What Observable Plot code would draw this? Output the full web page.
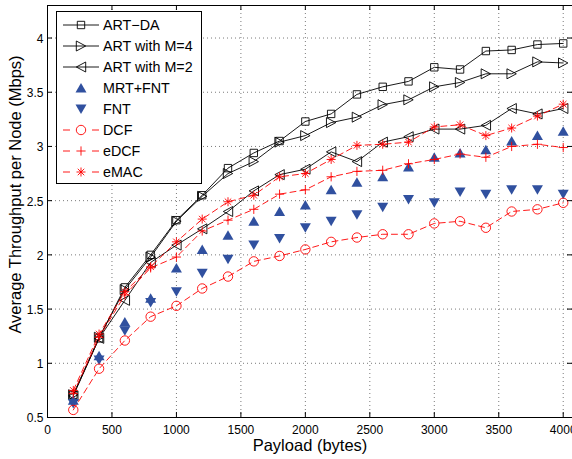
<!DOCTYPE html>
<html>
<head>
<meta charset="utf-8">
<script src="https://cdn.jsdelivr.net/npm/d3@7"></script>
<script src="https://cdn.jsdelivr.net/npm/@observablehq/plot@0.6"></script>
<style>
  html, body { margin: 0; padding: 0; background: #fff; }
  #wrap { position: relative; width: 572px; height: 459px; font-family: "Liberation Sans", Arial, sans-serif; }
  #legend { position: absolute; left: 0; top: 0; pointer-events: none; }
</style>
</head>
<body>
<div id="wrap"></div>
<script>
// ---------- data ----------
const payload = [200, 400, 600, 800, 1000, 1200, 1400, 1600, 1800, 2000, 2200, 2400, 2600, 2800, 3000, 3200, 3400, 3600, 3800, 4000];
const artDA  = [0.71, 1.23, 1.70, 2.00, 2.32, 2.55, 2.80, 2.94, 3.05, 3.23, 3.30, 3.48, 3.55, 3.60, 3.73, 3.71, 3.88, 3.89, 3.94, 3.95];
const artM4  = [0.71, 1.24, 1.68, 1.98, 2.31, 2.54, 2.75, 2.86, 3.04, 3.10, 3.22, 3.27, 3.385, 3.43, 3.55, 3.59, 3.67, 3.67, 3.78, 3.77];
const artM2  = [0.70, 1.23, 1.58, 1.93, 2.09, 2.24, 2.40, 2.59, 2.74, 2.79, 2.95, 2.86, 3.04, 3.09, 3.16, 3.16, 3.195, 3.35, 3.30, 3.35];
const mrtFnt = [0.66, 1.07, 1.38, 1.60, 1.88, 2.05, 2.18, 2.31, 2.40, 2.46, 2.60, 2.67, 2.72, 2.81, 2.90, 2.94, 2.97, 3.05, 3.10, 3.14];
const fnt    = [0.63, 1.03, 1.30, 1.56, 1.66, 1.83, 1.96, 2.09, 2.15, 2.25, 2.31, 2.37, 2.44, 2.51, 2.48, 2.58, 2.56, 2.60, 2.60, 2.56];
const dcf    = [0.57, 0.95, 1.21, 1.43, 1.53, 1.69, 1.80, 1.94, 1.99, 2.05, 2.12, 2.16, 2.19, 2.19, 2.29, 2.31, 2.25, 2.40, 2.42, 2.48];
const edcf   = [0.72, 1.24, 1.63, 1.88, 1.98, 2.22, 2.32, 2.42, 2.56, 2.60, 2.72, 2.77, 2.78, 2.84, 2.88, 2.93, 2.90, 3.00, 3.02, 2.99];
const emac   = [0.75, 1.27, 1.66, 1.89, 2.12, 2.33, 2.49, 2.55, 2.72, 2.75, 2.88, 3.01, 3.02, 3.04, 3.18, 3.20, 3.10, 3.17, 3.28, 3.39];

const seriesNames = ["ART\u2212DA", "ART with M=4", "ART with M=2", "MRT+FNT", "FNT", "DCF", "eDCF", "eMAC"];
const xTicks = [0, 500, 1000, 1500, 2000, 2500, 3000, 3500, 4000];
const xTickLabels = ["0", "500", "1000", "1500", "2000", "2500", "3000", "3500", "4000"];
const yTicks = [0.5, 1, 1.5, 2, 2.5, 3, 3.5, 4];
const yTickLabels = ["0.5", "1", "1.5", "2", "2.5", "3", "3.5", "4"];
const xLabel = "Payload (bytes)";
const yLabel = "Average Throughput per Node (Mbps)";

// ---------- symbols ----------
function mk(fn) { return { draw(ctx, size) { const r = Math.sqrt(size / Math.PI); fn(ctx, r); } }; }
const symSquare = mk((c, r) => { c.moveTo(-r, -r); c.lineTo(r, -r); c.lineTo(r, r); c.lineTo(-r, r); c.closePath(); });
const symRight = mk((c, r) => { const w = r * 0.94; c.moveTo(w, 0); c.lineTo(-w, -r); c.lineTo(-w, r); c.closePath(); });
const symLeft = mk((c, r) => { const w = r * 0.94; c.moveTo(-w, 0); c.lineTo(w, -r); c.lineTo(w, r); c.closePath(); });
const symUp = mk((c, r) => { const w = r * 1.1; c.moveTo(0, -r); c.lineTo(w, 0.9 * r); c.lineTo(-w, 0.9 * r); c.closePath(); });
const symDown = mk((c, r) => { const w = r * 1.1; c.moveTo(0, r); c.lineTo(w, -0.9 * r); c.lineTo(-w, -0.9 * r); c.closePath(); });
const symCircle = mk((c, r) => { c.moveTo(r, 0); c.arc(0, 0, r, 0, 2 * Math.PI); });
const symPlus = mk((c, r) => { c.moveTo(-r, 0); c.lineTo(r, 0); c.moveTo(0, -r); c.lineTo(0, r); });
const symAster = mk((c, r) => {
  c.moveTo(-r, 0); c.lineTo(r, 0); c.moveTo(0, -r); c.lineTo(0, r);
  const d = r * 0.72; c.moveTo(-d, -d); c.lineTo(d, d); c.moveTo(-d, d); c.lineTo(d, -d);
});

const RED = "#ff0000", BLUE = "#30509f", BLACK = "#000";
const styles = [
  { sym: symSquare, r: 3.7, stroke: BLACK, fill: "none", line: true, dash: null },
  { sym: symRight, r: 5, stroke: BLACK, fill: "none", line: true, dash: null },
  { sym: symLeft, r: 5, stroke: BLACK, fill: "none", line: true, dash: null },
  { sym: symUp, r: 5, stroke: "none", fill: BLUE, line: false, dash: null },
  { sym: symDown, r: 5, stroke: "none", fill: BLUE, line: false, dash: null },
  { sym: symCircle, r: 4.7, stroke: RED, fill: "none", line: true, dash: "6,4" },
  { sym: symPlus, r: 4.6, stroke: RED, fill: "none", line: true, dash: "6,4" },
  { sym: symAster, r: 4.5, stroke: RED, fill: "none", line: true, dash: "6,4" }
];
const values = [artDA, artM4, artM2, mrtFnt, fnt, dcf, edcf, emac];

// ---------- chart ----------
const W = 572, H = 459, mL = 47, mR = 0, mT = 5, mB = 42;
const innerW = W - mL - mR, innerH = H - mT - mB;

const seriesMarks = [];
values.forEach((vals, k) => {
  const st = styles[k];
  const rows = payload.map((p, i) => ({ p, v: vals[i] }));
  if (st.line) {
    seriesMarks.push(Plot.line(rows, { x: "p", y: "v", stroke: st.stroke, strokeWidth: 0.9, strokeDasharray: st.dash || undefined }));
  }
  seriesMarks.push(Plot.dot(rows, { x: "p", y: "v", symbol: st.sym, r: st.r, stroke: st.stroke, fill: st.fill, strokeWidth: 0.9 }));
});

const chart = Plot.plot({
  width: W, height: H,
  marginLeft: mL, marginRight: mR, marginTop: mT, marginBottom: mB,
  style: { fontFamily: "'Liberation Sans', Arial, sans-serif", background: "white", overflow: "visible" },
  x: { domain: [0, 4072] },
  y: { domain: [0.5, 4.3] },
  marks: [
    Plot.gridX(xTicks, { stroke: "#7a7a7a", strokeOpacity: 1, strokeDasharray: "1,3" }),
    Plot.gridY(yTicks, { stroke: "#7a7a7a", strokeOpacity: 1, strokeDasharray: "1,3" }),
    ...seriesMarks,
    Plot.tickX(xTicks, { x: d => d, insetTop: innerH - 5, stroke: BLACK }),
    Plot.tickX(xTicks, { x: d => d, insetBottom: innerH - 5, stroke: BLACK }),
    Plot.tickY(yTicks, { y: d => d, insetRight: innerW - 5, stroke: BLACK }),
    Plot.tickY(yTicks, { y: d => d, insetLeft: innerW - 5, stroke: BLACK }),
    Plot.frame({ stroke: BLACK }),
    Plot.axisX(xTicks, { tickSize: 0, tickPadding: 8, fontSize: 12, label: null, tickFormat: d => xTickLabels[xTicks.indexOf(d)] }),
    Plot.axisY(yTicks, { tickSize: 0, tickPadding: 4, fontSize: 12, label: null, dy: 1, tickFormat: d => yTickLabels[yTicks.indexOf(d)] }),
    Plot.text([xLabel], { text: d => d, frameAnchor: "bottom", lineAnchor: "top", dy: 22, fontSize: 16.5, fill: BLACK }),
    Plot.text([yLabel], { text: d => d, frameAnchor: "left", textAnchor: "middle", rotate: -90, dx: -32, dy: -17, fontSize: 16.5, fill: BLACK })
  ]
});
document.getElementById("wrap").appendChild(chart);

// ---------- legend ----------
const lg = d3.select("#wrap").append("svg")
  .attr("id", "legend").attr("width", W).attr("height", H);
lg.append("rect").attr("x", 56.5).attr("y", 11.5).attr("width", 145).attr("height", 172)
  .attr("fill", "white").attr("stroke", BLACK).attr("stroke-width", 1);
seriesNames.forEach((name, k) => {
  const st = styles[k];
  const cy = 25 + k * 21;
  const g = lg.append("g");
  if (st.line) {
    g.append("line").attr("x1", 63).attr("x2", 99).attr("y1", cy).attr("y2", cy)
      .attr("stroke", st.stroke).attr("stroke-width", 0.9)
      .attr("stroke-dasharray", st.dash ? "7,22" : null);
  }
  const p = d3.path();
  st.sym.draw(p, Math.PI * st.r * st.r);
  g.append("path").attr("d", p.toString()).attr("transform", `translate(81,${cy})`)
    .attr("fill", st.fill).attr("stroke", st.stroke).attr("stroke-width", 0.9);
  g.append("text").attr("x", 103).attr("y", cy).attr("dy", "0.35em")
    .attr("font-size", 14.3).attr("font-family", "'Liberation Sans', Arial, sans-serif")
    .attr("fill", BLACK).text(name);
});
</script>
</body>
</html>
